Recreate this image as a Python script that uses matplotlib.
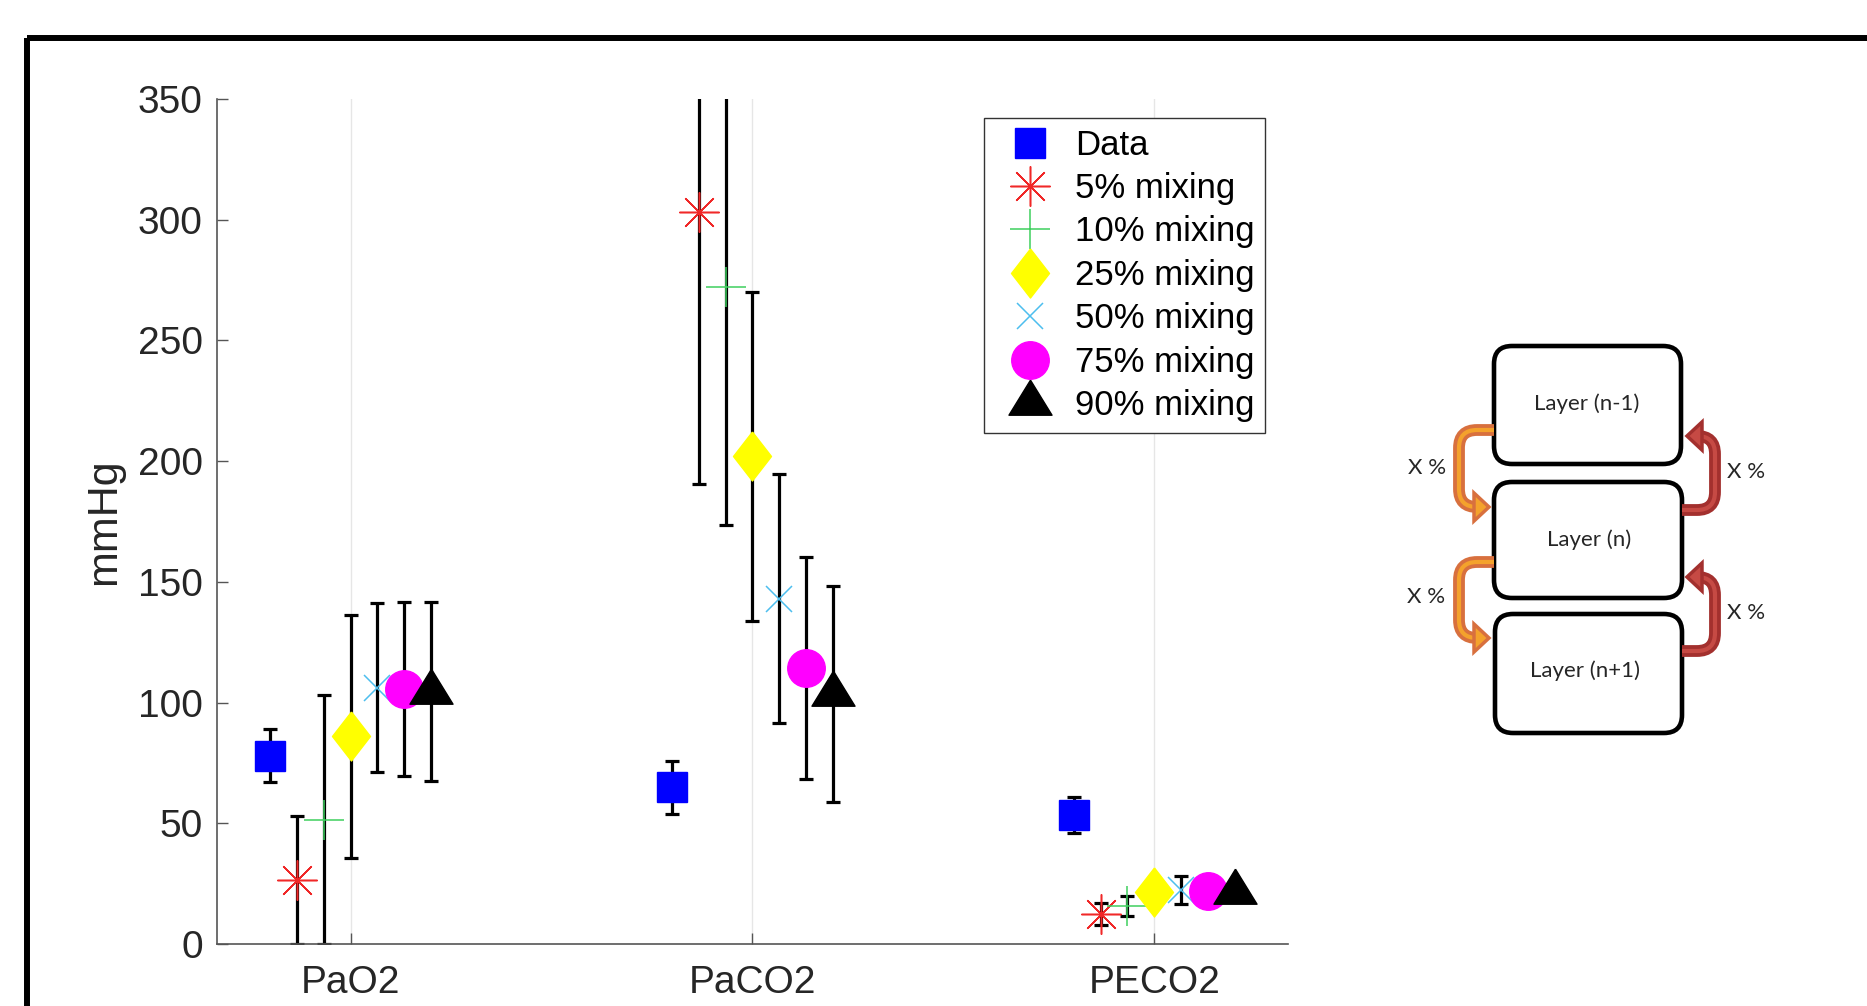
import numpy as np
import matplotlib
matplotlib.use('Agg')
import matplotlib.pyplot as plt
from matplotlib.path import Path
from matplotlib.patches import PathPatch, FancyBboxPatch, Rectangle, Polygon

plt.rcParams['font.family'] = ['Liberation Sans', 'DejaVu Sans']

# values (mmHg)
categories = ['PaO2', 'PaCO2', 'PECO2']
series = ['Data', '5% mixing', '10% mixing', '25% mixing',
          '50% mixing', '75% mixing', '90% mixing']

data_mean = [78.0, 65.0, 53.5]
data_err = [11.0, 11.0, 7.5]
mix5_mean = [26.6, 303.0, 12.5]
mix5_err = [26.6, 112.5, 4.7]
mix10_mean = [51.5, 272.0, 15.8]
mix10_err = [51.5, 98.5, 4.2]
mix25_mean = [86.0, 202.0, 21.5]
mix25_err = [50.2, 68.0, 4.0]
mix50_mean = [106.2, 143.0, 22.5]
mix50_err = [35.0, 51.5, 5.9]
mix75_mean = [105.5, 114.5, 22.0]
mix75_err = [36.0, 46.0, 4.5]
mix90_mean = [104.6, 103.6, 21.5]
mix90_err = [37.0, 44.7, 4.0]

means = [data_mean, mix5_mean, mix10_mean, mix25_mean, mix50_mean, mix75_mean, mix90_mean]
errs = [data_err, mix5_err, mix10_err, mix25_err, mix50_err, mix75_err, mix90_err]

diamond = [(0, 1), (0.775, 0), (0, -1), (-0.775, 0), (0, 1)]
triangle = [(0, 23.3), (21.5, -11.7), (-21.5, -11.7), (0, 23.3)]
styles = [
    dict(marker='s', ms=22.3, color='#0000ff', mec='#0000ff'),
    dict(marker=(8, 2, 0), ms=28.8, color='#f02828', mew=1.1),
    dict(marker='+', ms=28.8, color='#3ecf5e', mew=1.1),
    dict(marker=diamond, ms=35.3, color='#ffff00', mec='#ffff00'),
    dict(marker='x', ms=19.4, color='#4dbeee', mew=1.1),
    dict(marker='o', ms=27, color='#ff00ff', mec='#ff00ff'),
    dict(marker=triangle, ms=33.6, color='k', mec='k'),
]

fig = plt.figure(figsize=(18.67, 10.06), dpi=100)
ax = fig.add_axes([0.11607, 0.06143, 0.57381, 0.84036])

x = np.arange(1, len(categories) + 1)
offsets = np.linspace(-0.2, 0.2, len(series))
handles = []
for i in range(len(series)):
    xs = x + offsets[i]
    ax.errorbar(xs, means[i], yerr=errs[i], fmt='none', ecolor='k',
                elinewidth=2.3, capsize=4.7, capthick=2.3, zorder=2)
    h, = ax.plot(xs, means[i], linestyle='none', zorder=3, **styles[i])
    handles.append(h)

ax.set_xlim(0.667, 3.333)
ax.set_ylim(0, 350)
ax.set_xticks(x)
ax.set_xticklabels(categories)
ax.set_yticks(np.arange(0, 351, 50))
for s in ['top', 'right']:
    ax.spines[s].set_visible(False)
for s in ['left', 'bottom']:
    ax.spines[s].set_color('#555555')
    ax.spines[s].set_linewidth(1.2)
ax.tick_params(direction='in', length=7.7, width=1, color='#555555',
               labelsize=28, labelcolor='#262626')
ax.tick_params(axis='y', pad=10)
ax.tick_params(axis='x', pad=15)
ax.set_axisbelow(True)
ax.xaxis.grid(True, color='#e6e6e6', lw=1)
ax.set_ylabel('mmHg', fontsize=31, color='#262626', labelpad=10)

leg = ax.legend(handles, series, loc='upper left', bbox_to_anchor=(0.716, 0.977),
                borderaxespad=0, fontsize=25, fancybox=False, edgecolor='#333333',
                framealpha=1, borderpad=0.3, handlelength=2.08, handletextpad=0.26,
                labelspacing=0.3, numpoints=1)
leg.get_frame().set_linewidth(1)

# overlay in pixel coordinates for frame and layer diagram
ov = fig.add_axes([0, 0, 1, 1])
ov.set_xlim(0, 1867)
ov.set_ylim(1006, 0)
ov.axis('off')

ov.add_patch(Rectangle((26.5, 37.5), 1900, 1100, fill=False, lw=4.3, ec='k', clip_on=False))

boxes = [(1494, 346, 187, 118), (1494, 482, 188, 116), (1495, 614, 187, 119)]
for bx, by, bw, bh in boxes:
    ov.add_patch(FancyBboxPatch((bx, by), bw, bh, boxstyle='round,pad=0,rounding_size=18',
                                lw=3.3, ec='k', fc='white'))

layer_texts = [(1587, 404, 'Layer (n-1)'), (1589, 540, 'Layer (n)'), (1585, 671, 'Layer (n+1)')]
for tx, ty, t in layer_texts:
    ov.text(tx, ty, t, ha='center', va='center', fontsize=16, family='Lato', color='#262626')
for tx, ty in [(1427, 468), (1426, 597), (1746, 472), (1746, 613)]:
    ov.text(tx, ty, 'X %', ha='center', va='center', fontsize=16, family='Lato', color='#262626')


def rounded(pts, r):
    verts = [pts[0]]
    codes = [Path.MOVETO]
    for k in range(1, len(pts) - 1):
        p0, p1, p2 = np.array(pts[k - 1]), np.array(pts[k]), np.array(pts[k + 1])
        d1 = (p1 - p0) / np.linalg.norm(p1 - p0)
        d2 = (p2 - p1) / np.linalg.norm(p2 - p1)
        verts += [tuple(p1 - r * d1), tuple(p1), tuple(p1 + r * d2)]
        codes += [Path.LINETO, Path.CURVE3, Path.CURVE3]
    verts.append(pts[-1])
    codes.append(Path.LINETO)
    return Path(verts, codes)


def bent_arrow(pts, tip, ec, fc):
    p = rounded(pts, 18)
    ov.add_patch(PathPatch(p, fill=False, ec=ec, lw=8.5, capstyle='butt'))
    ov.add_patch(PathPatch(p, fill=False, ec=fc, lw=3.0, capstyle='butt'))
    bx, by = pts[-1]
    ov.add_patch(Polygon([(bx, by - 14), (tip, by), (bx, by + 14)], closed=True,
                         fc=fc, ec=ec, lw=2.5))


orange_ec, orange_fc = '#d8703e', '#f4a22c'
red_ec, red_fc = '#a3302e', '#c64a44'
bent_arrow([(1494, 430), (1459, 430), (1459, 507), (1474, 507)], 1489, orange_ec, orange_fc)
bent_arrow([(1494, 562), (1459, 562), (1459, 638), (1474, 638)], 1489, orange_ec, orange_fc)
bent_arrow([(1682, 510), (1715, 510), (1715, 436), (1702, 436)], 1687, red_ec, red_fc)
bent_arrow([(1682, 651), (1715, 651), (1715, 577), (1702, 577)], 1687, red_ec, red_fc)

fig.savefig('out.png', dpi=100)
